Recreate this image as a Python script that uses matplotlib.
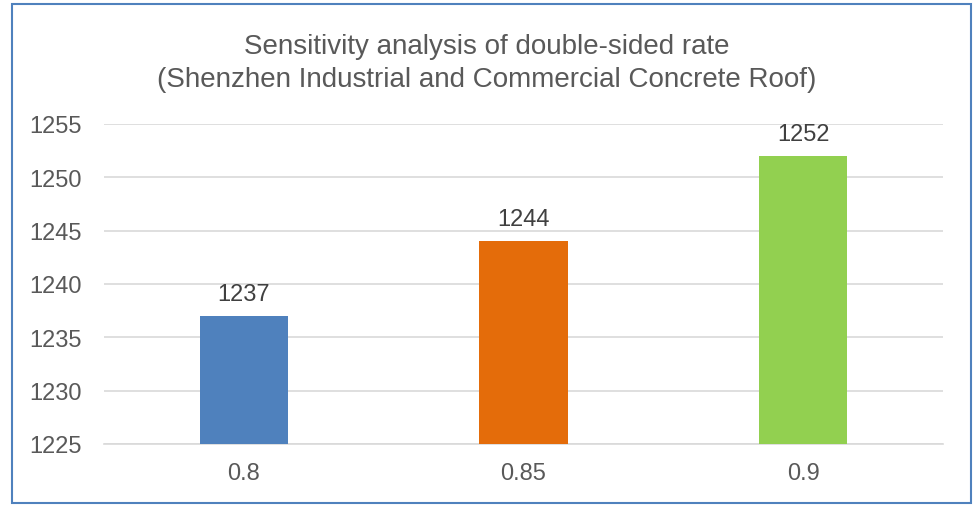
import matplotlib
matplotlib.use("Agg")
import matplotlib.pyplot as plt
from matplotlib.patches import Rectangle

plt.rcParams['font.family'] = ['Liberation Sans', 'DejaVu Sans']

categories = ["0.8", "0.85", "0.9"]
values = [1237, 1244, 1252]
colors = ["#4F81BD", "#E46C0A", "#92D050"]
yticks = [1225, 1230, 1235, 1240, 1245, 1250, 1255]

fig = plt.figure(figsize=(9.73, 5.06), dpi=100)
ax = fig.add_axes([104/973, 1-445/506, (943-104)/973, (445-125)/506])

x = range(len(categories))
bars = ax.bar(x, [v - 1225 for v in values], bottom=1225, width=0.315,
              color=colors, zorder=3)
for xi, v in zip(x, values):
    ax.annotate(str(v), (xi, v), xytext=(0, 16), textcoords='offset points',
                ha='center', va='center', fontsize=17, color='#404040')

ax.set_xlim(-0.5, len(categories) - 0.5)
ax.set_ylim(1225, 1255)
ax.set_yticks(yticks)
ax.set_xticks(list(x))
ax.set_xticklabels(categories)
ax.grid(axis='y', color='#D9D9D9', linewidth=1.2, zorder=0)
for s in ['top', 'right', 'left']:
    ax.spines[s].set_visible(False)
ax.spines['bottom'].set_color('#D9D9D9')
ax.spines['bottom'].set_linewidth(1.2)
ax.tick_params(axis='both', length=0, labelsize=17, colors='#595959')
ax.tick_params(axis='y', pad=16)
ax.tick_params(axis='x', pad=13)

fig.text(0.5, 1 - 47/506, "Sensitivity analysis of double-sided rate",
         ha='center', va='center', fontsize=20, color='#595959')
fig.text(0.5, 1 - 80/506, "(Shenzhen Industrial and Commercial Concrete Roof)",
         ha='center', va='center', fontsize=20, color='#595959')

# outer frame
fig.patches.append(Rectangle((12/973, 1 - 504/506), (971-12)/973, (504-5)/506,
                             transform=fig.transFigure, fill=False,
                             edgecolor='#4F81BD', linewidth=1.5))

fig.savefig("out.png", dpi=100)
